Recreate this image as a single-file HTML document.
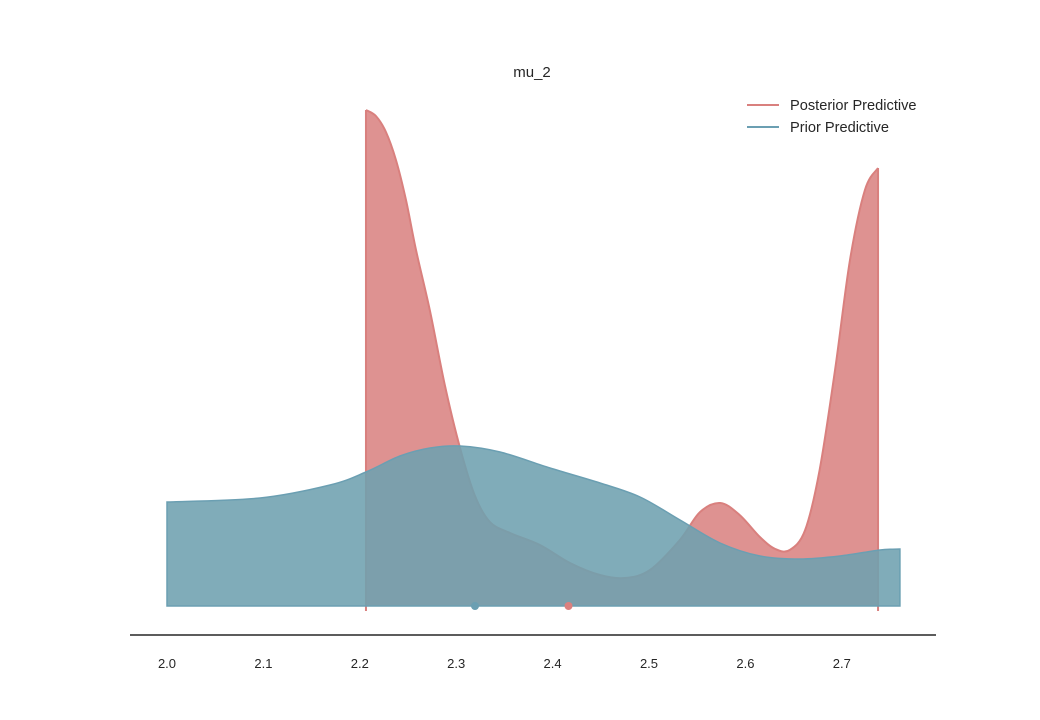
<!DOCTYPE html>
<html><head><meta charset="utf-8"><style>
body{margin:0;background:#fff}
svg text{font-family:"Liberation Sans","DejaVu Sans",sans-serif;fill:#262626}
</style></head><body>
<svg id="chart" width="1040" height="715">
<text x="532" y="77" font-size="15" text-anchor="middle">mu_2</text>
<g id="marks"></g>
<line x1="130" y1="635" x2="936" y2="635" stroke="#262626" stroke-width="1.5"/>
<g id="ticks"></g>
<g>
<line x1="747" y1="105" x2="779" y2="105" stroke="#d9807e" stroke-width="2"/>
<text x="790" y="110" font-size="14.6">Posterior Predictive</text>
<line x1="747" y1="127" x2="779" y2="127" stroke="#6b9fb2" stroke-width="2"/>
<text x="790" y="132" font-size="14.6">Prior Predictive</text>
</g>
</svg>
<script>
const tickValues=[2.0,2.1,2.2,2.3,2.4,2.5,2.6,2.7];
const tickLabels=["2.0","2.1","2.2","2.3","2.4","2.5","2.6","2.7"];
const postX=[2.2064,2.2167,2.2271,2.2375,2.2479,2.2583,2.2728,2.2884,2.304,2.3195,2.335,2.3558,2.3869,2.418,2.4492,2.475,2.501,2.532,2.553,2.574,2.594,2.615,2.631,2.646,2.662,2.677,2.693,2.7085,2.724,2.7376];
const postD=[4.96,4.90,4.74,4.46,4.06,3.56,2.95,2.20,1.58,1.10,0.84,0.73,0.61,0.43,0.31,0.28,0.36,0.66,0.94,1.03,0.91,0.69,0.57,0.56,0.76,1.36,2.36,3.46,4.16,4.38];
const priorX=[2.0,2.0965,2.1691,2.2064,2.2417,2.2728,2.304,2.3455,2.3973,2.4492,2.4907,2.5322,2.5737,2.6151,2.6566,2.6981,2.7396,2.7603];
const priorD=[1.04,1.08,1.21,1.34,1.50,1.58,1.60,1.54,1.38,1.23,1.09,0.86,0.63,0.50,0.47,0.50,0.56,0.57];
const postPoint=2.4165, priorPoint=2.3195;
const X=v=>167+(v-2.0)*964, Y=d=>606-d*100;
const NS="http://www.w3.org/2000/svg";
function smooth(xs,ds){let p=xs.map((x,i)=>[X(x),Y(ds[i])]);let s="M"+p[0][0]+","+p[0][1];
for(let i=0;i<p.length-1;i++){const a=p[Math.max(0,i-1)],b=p[i],c=p[i+1],d=p[Math.min(p.length-1,i+2)];
s+=` C${b[0]+(c[0]-a[0])/6},${b[1]+(c[1]-a[1])/6} ${c[0]-(d[0]-b[0])/6},${c[1]-(d[1]-b[1])/6} ${c[0]},${c[1]}`;}return s;}
const g=document.getElementById('marks');
function mk(tag,attrs){const e=document.createElementNS(NS,tag);for(const k in attrs)e.setAttribute(k,attrs[k]);g.appendChild(e);return e;}
const pc=smooth(postX,postD);
const pf=mk('path',{d:`M${X(postX[0])},${Y(0)} L${X(postX[0])},${Y(postD[0])} `+pc.replace(/^M[^ ]+/,'')+` L${X(postX[postX.length-1])},${Y(0)} Z`,fill:'#de9291',stroke:'none'});


const pl=mk('path',{d:pc,fill:'none',stroke:'#d9807e','stroke-width':2});


const pv1=mk('line',{x1:X(postX[0]),x2:X(postX[0]),y1:Y(postD[0]),y2:611,stroke:'#d9807e','stroke-width':2});


const pv2=mk('line',{x1:X(postX[postX.length-1]),x2:X(postX[postX.length-1]),y1:Y(postD[postD.length-1]),y2:611,stroke:'#d9807e','stroke-width':2});


const qc=smooth(priorX,priorD);
const qf=mk('path',{d:`M${X(priorX[0])},${Y(0)} L${X(priorX[0])},${Y(priorD[0])} `+qc.replace(/^M[^ ]+/,'')+` L${X(priorX[priorX.length-1])},${Y(0)} Z`,fill:'rgb(110,160,175)','fill-opacity':0.88,stroke:'#6b9fb2','stroke-width':1.5});


const d1=mk('circle',{cx:X(priorPoint),cy:606,r:4,fill:'#6b9fb2'});


const d2=mk('circle',{cx:X(postPoint),cy:606,r:4,fill:'#dc807e'});


const tg=document.getElementById('ticks');
tickValues.forEach((v,i)=>{const t=document.createElementNS(NS,'text');
t.setAttribute('x',X(v));t.setAttribute('y',668);t.setAttribute('font-size','13');t.setAttribute('text-anchor','middle');
t.textContent=tickLabels[i];


tg.appendChild(t);});
</script>
</body></html>
